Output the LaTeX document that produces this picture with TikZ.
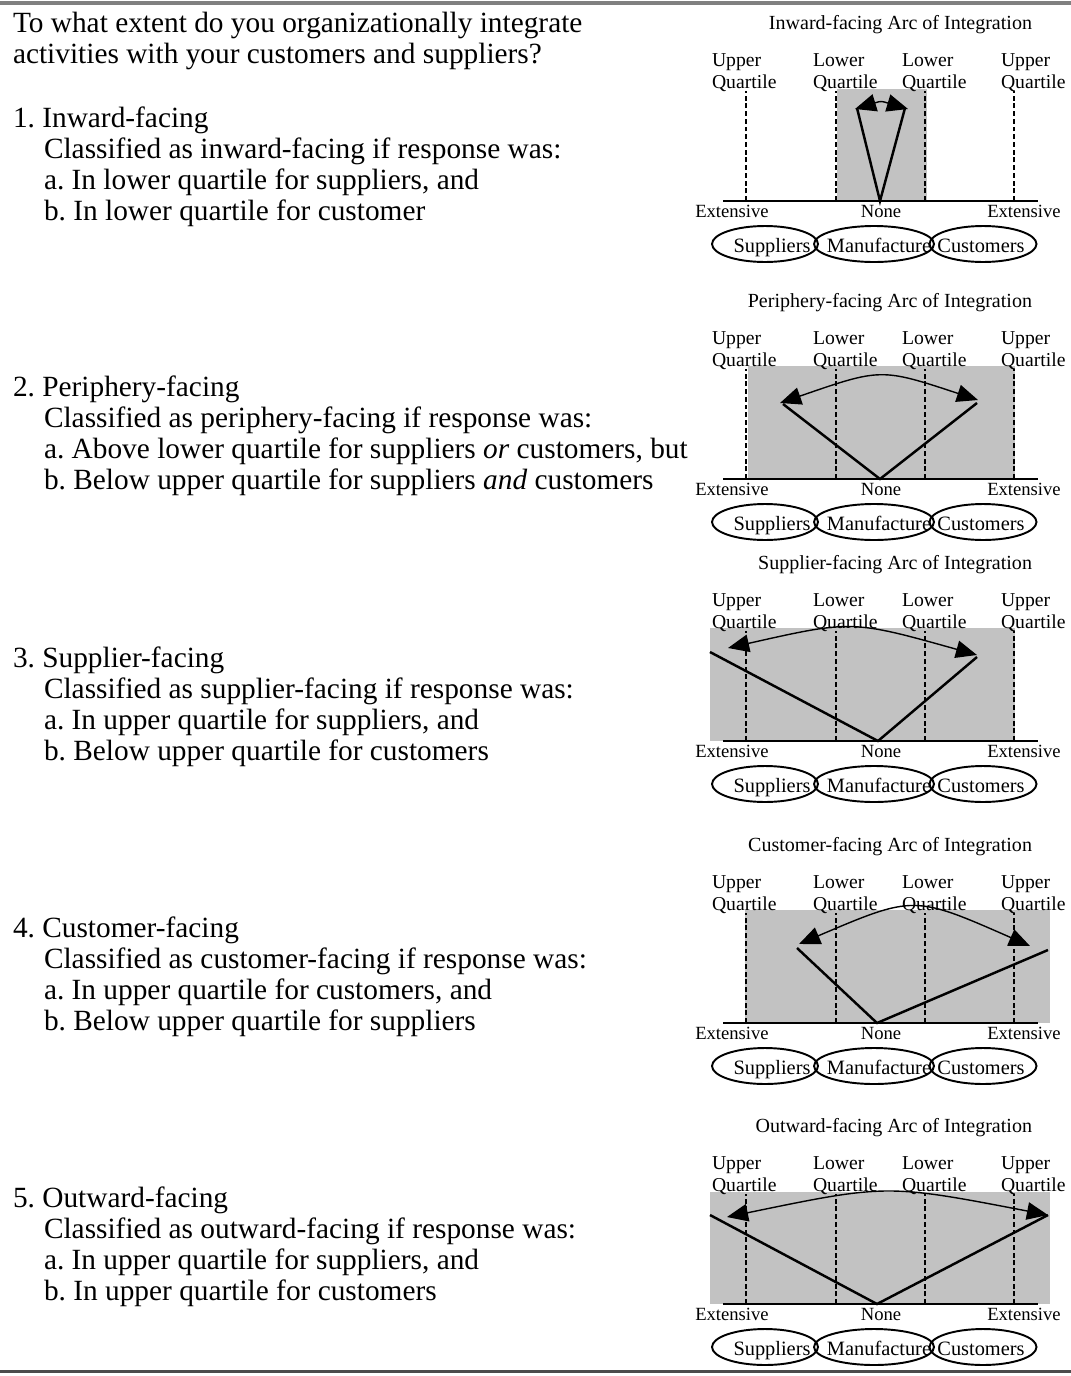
\documentclass[tikz,border=0pt]{standalone}
\usepackage{fontspec}
\setmainfont{Liberation Serif}
\usetikzlibrary{shapes.geometric, arrows.meta}
\frenchspacing

\begin{document}
\begin{tikzpicture}[x=0.02cm, y=-0.02cm,
    every node/.style={inner sep=0pt, outer sep=0pt},
    question/.style={anchor=base west, font=\fontsize{16.7}{20}\selectfont},
    arctitle/.style={anchor=base east, font=\fontsize{11.4}{13}\selectfont},
    quartile/.style={anchor=north west, align=left, font=\fontsize{11.2}{12.5}\selectfont},
    extentlab/.style={anchor=base, font=\fontsize{10.6}{12}\selectfont},
    firm/.style={draw, ellipse, line width=1.1pt, minimum height=0.72cm},
    firmname/.style={anchor=base, font=\fontsize{11.6}{13}\selectfont},
    zone/.style={fill=black!24},
    qline/.style={line width=1.1pt, dash pattern=on 2.8pt off 1.6pt},
    scaleline/.style={line width=1.2pt},
    arm/.style={line width=1.4pt},
    reach/.style={line width=0.8pt, {Triangle[length=12pt,width=10pt]}-{Triangle[length=12pt,width=10pt]}}]

    \useasboundingbox (0,0) rectangle (1071,1376);
    \draw[line width=2.2pt, black!50] (0,3) -- (1071,3);
    \draw[line width=1.7pt, black!70] (0,1371) -- (1071,1371);

    % question text
    \node[question] (q1) at (13,32) {To what extent do you organizationally integrate};
    \node[question] (q2) at (13,63) {activities with your customers and suppliers?};

    \node[question] (item1) at (13,127) {1. Inward-facing};
    \node[question] (cls1) at (44,158) {Classified as inward-facing if response was:};
    \node[question] (crita1) at (44,189) {a. In lower quartile for suppliers, and};
    \node[question] (critb1) at (44,220) {b. In lower quartile for customer};

    \node[question] (item2) at (13,396) {2. Periphery-facing};
    \node[question] (cls2) at (44,427) {Classified as periphery-facing if response was:};
    \node[question] (crita2) at (44,458) {a. Above lower quartile for suppliers \textit{or} customers, but};
    \node[question] (critb2) at (44,489) {b. Below upper quartile for suppliers \textit{and} customers};

    \node[question] (item3) at (13,667) {3. Supplier-facing};
    \node[question] (cls3) at (44,698) {Classified as supplier-facing if response was:};
    \node[question] (crita3) at (44,729) {a. In upper quartile for suppliers, and};
    \node[question] (critb3) at (44,760) {b. Below upper quartile for customers};

    \node[question] (item4) at (13,937) {4. Customer-facing};
    \node[question] (cls4) at (44,968) {Classified as customer-facing if response was:};
    \node[question] (crita4) at (44,999) {a. In upper quartile for customers, and};
    \node[question] (critb4) at (44,1030) {b. Below upper quartile for suppliers};

    \node[question] (item5) at (13,1207) {5. Outward-facing};
    \node[question] (cls5) at (44,1238) {Classified as outward-facing if response was:};
    \node[question] (crita5) at (44,1269) {a. In upper quartile for suppliers, and};
    \node[question] (critb5) at (44,1300) {b. In upper quartile for customers};

    % shaded reach of each arc
    \fill[zone] (837,89) rectangle (927,201);
    \fill[zone] (748,366) rectangle (1015,479);
    \fill[zone] (710,628) rectangle (1015,741);
    \fill[zone] (745,910) rectangle (1050,1023);
    \fill[zone] (710,1192) rectangle (1050,1304);

    % panel skeleton
    \foreach \n/\b/\kind in {1/201/Inward, 2/479/Periphery, 3/741/Supplier, 4/1023/Customer, 5/1304/Outward}{
        \node[arctitle] (title\n) at (1032,\b-172) {\kind-facing Arc of Integration};
        \node[quartile] (uqL\n) at (712,\b-147) {Upper\\Quartile};
        \node[quartile] (lqL\n) at (813,\b-147) {Lower\\Quartile};
        \node[quartile] (lqR\n) at (902,\b-147) {Lower\\Quartile};
        \node[quartile] (uqR\n) at (1001,\b-147) {Upper\\Quartile};

        \foreach \k/\gx in {1/746, 2/836, 3/925, 4/1014}
            \coordinate (grid-\n-\k) at (\gx,\b);
        \foreach \k in {1,...,4}
            \draw[qline] (grid-\n-\k) -- ++(0,-110);

        \coordinate (axL\n) at (723,\b);
        \coordinate (axR\n) at (1038,\b);
        \draw[scaleline] (axL\n) -- (axR\n);

        \node[extentlab] (extL\n) at (732,\b+16) {Extensive};
        \node[extentlab] (none\n) at (881,\b+16) {None};
        \node[extentlab] (extR\n) at (1024,\b+16) {Extensive};

        \node[firm, minimum width=2.12cm] (sup\n) at (765,\b+43) {};
        \node[firm, minimum width=2.4cm] (man\n) at (874,\b+43) {};
        \node[firm, minimum width=2.14cm] (cus\n) at (983,\b+43) {};
        \node[firmname] (suplab\n) at (772,\b+51) {Suppliers};
        \node[firmname] (manlab\n) at (879,\b+51) {Manufacture};
        \node[firmname] (cuslab\n) at (981,\b+51) {Customers};
    }

    % inward
    \coordinate (apex1) at (880,201);
    \coordinate (armL1) at (857,108);
    \coordinate (armR1) at (905,108);
    \coordinate (tipL1) at (855,109);
    \coordinate (tipR1) at (908,109);
    \coordinate (bow1) at (881,101);
    % periphery
    \coordinate (apex2) at (880,479);
    \coordinate (armL2) at (783,404);
    \coordinate (armR2) at (977,403);
    \coordinate (tipL2) at (780,403);
    \coordinate (tipR2) at (978,400);
    \coordinate (bow2) at (881,368);
    % supplier
    \coordinate (apex3) at (878,741);
    \coordinate (armL3) at (710,652);
    \coordinate (armR3) at (977,657);
    \coordinate (tipL3) at (728,648);
    \coordinate (tipR3) at (977,655);
    \coordinate (bow3) at (852,620);
    % customer
    \coordinate (apex4) at (877,1023);
    \coordinate (armL4) at (797,948);
    \coordinate (armR4) at (1048,950);
    \coordinate (tipL4) at (799,944);
    \coordinate (tipR4) at (1030,946);
    \coordinate (bow4) at (914,895);
    % outward
    \coordinate (apex5) at (877,1304);
    \coordinate (armL5) at (710,1215);
    \coordinate (armR5) at (1048,1215);
    \coordinate (tipL5) at (727,1217);
    \coordinate (tipR5) at (1048,1215);
    \coordinate (bow5) at (887,1184);

    \foreach \n in {1,...,5}{
        \draw[arm] (armL\n) -- (apex\n) -- (armR\n);
        \draw[reach] (tipL\n) .. controls (bow\n) .. (tipR\n);
    }
\end{tikzpicture}
\end{document}
